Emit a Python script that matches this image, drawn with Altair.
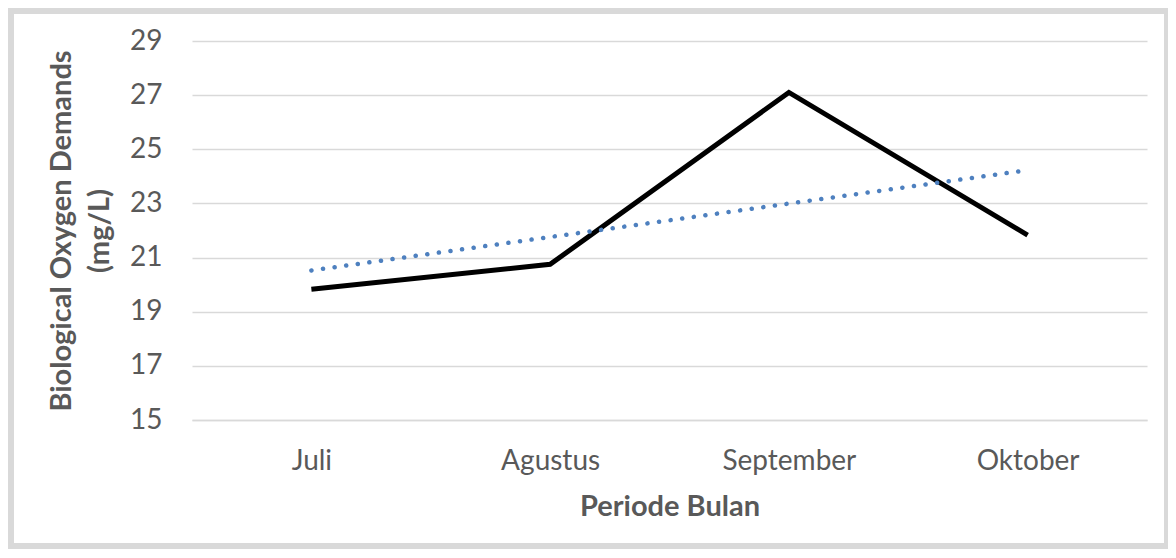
import altair as alt
import pandas as pd

months = ["Juli", "Agustus", "September", "Oktober"]
bod = [19.83, 20.75, 27.1, 21.83]
y_ticks = [15, 17, 19, 21, 23, 25, 27, 29]

df = pd.DataFrame({"idx": list(range(len(months))), "bulan": months, "bod": bod})

label_expr = " : ".join(f"datum.value == {i} ? '{m}'" for i, m in enumerate(months)) + " : ''"

FONT = "Lato"
TXT = "#595959"
GRID = "#d9d9d9"

x_enc = alt.X(
    "idx:Q",
    scale=alt.Scale(domain=[-0.5, len(months) - 0.5], nice=False, zero=False),
    axis=alt.Axis(
        values=list(range(len(months))),
        labelExpr=label_expr,
        title="Periode Bulan",
        grid=False,
        ticks=False,
        domainColor=GRID,
        domainWidth=1.5,
        labelFontSize=28,
        labelPadding=27,
        labelColor=TXT,
        labelFont=FONT,
        titleFont=FONT,
        titleFontSize=29,
        titleFontWeight="bold",
        titleColor=TXT,
        titlePadding=17,
    ),
)
y_enc = alt.Y(
    "bod:Q",
    scale=alt.Scale(domain=[15, 29], nice=False, zero=False),
    axis=alt.Axis(
        values=y_ticks,
        title=["Biological Oxygen Demands", "(mg/L)"],
        grid=True,
        gridColor=GRID,
        gridWidth=1.5,
        domain=False,
        ticks=False,
        labelFontSize=28,
        labelPadding=30,
        labelColor=TXT,
        labelFont=FONT,
        titleFont=FONT,
        titleFontSize=29,
        titleFontWeight="bold",
        titleColor=TXT,
        titlePadding=15,
        titleLineHeight=38,
    ),
)

base = alt.Chart(df)

line = base.mark_line(color="black", strokeWidth=5, strokeJoin="miter").encode(x=x_enc, y=y_enc)

trend = base.transform_regression("idx", "bod").mark_line(
    color="#4e80bf", strokeWidth=4.5, strokeDash=[0.1, 11.6], strokeCap="round"
).encode(x="idx:Q", y="bod:Q")

frame = alt.Chart(pd.DataFrame({"a": [0]})).mark_rect(
    fill=None, stroke=GRID, strokeWidth=6
).encode(
    x=alt.value(-181), x2=alt.value(975), y=alt.value(-30), y2=alt.value(505)
)

chart = alt.layer(line, trend, frame).properties(
    width=955,
    height=379,
    padding={"left": 184, "top": 33, "right": 21, "bottom": 130},
    autosize=alt.AutoSizeParams(type="none"),
    background="white",
).configure_view(stroke=None)

chart.save("out.html", embed_options={"renderer": "svg", "actions": False})
